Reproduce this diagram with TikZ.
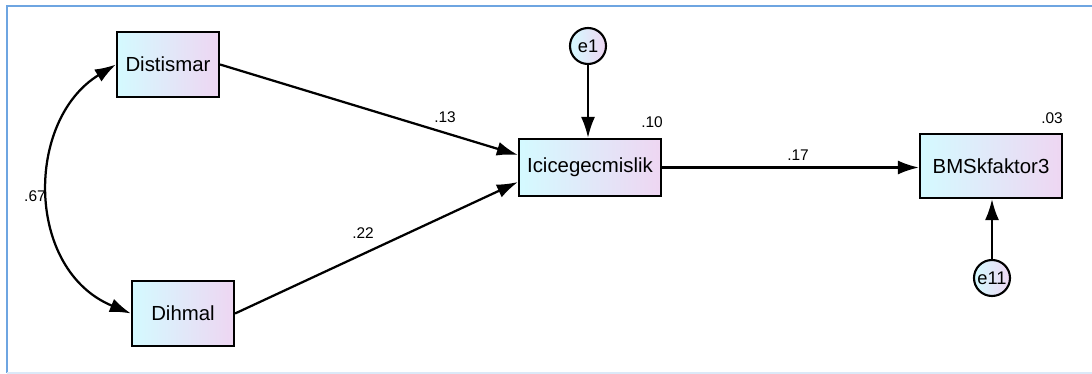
\documentclass[tikz,border=0pt]{standalone}
\usepackage{fontspec}
\setmainfont{Liberation Sans}
\usetikzlibrary{arrows.meta}

\definecolor{framebl}{RGB}{110,165,225}
\definecolor{boxcy}{RGB}{212,250,255}
\definecolor{boxpk}{RGB}{238,214,242}

\tikzset{
  var/.style={draw, line width=1.5pt, left color=boxcy, right color=boxpk,
    font=\fontsize{14.5}{17}\selectfont, inner sep=0pt},
  err/.style={circle, draw, line width=1.5pt, left color=boxcy, right color=boxpk,
    minimum size=0.9cm, inner sep=0pt, font=\fontsize{13}{15}\selectfont},
  reg/.style={draw, line width=1.6pt, -{Latex[length=15pt,width=10pt]}},
  corr/.style={draw, line width=1.6pt, {Latex[length=15pt,width=10pt]}-{Latex[length=15pt,width=10pt]}},
  coef/.style={font=\fontsize{11}{13}\selectfont, inner sep=0pt}
}

\begin{document}
\begin{tikzpicture}[x=0.025cm,y=-0.025cm]
  \useasboundingbox (0,0) rectangle (1092,374);
  % frame
  \draw [framebl, line width=1.6pt] (7,373) -- (7,6) -- (1092,6);
  \draw [framebl!25, line width=1pt] (7,373) -- (1092,373);

  \node [var, minimum width=2.55cm, minimum height=1.625cm] (dist) at (168,64.5) {Distismar};
  \node [var, minimum width=2.55cm, minimum height=1.625cm] (dih) at (183,313.5) {Dihmal};
  \node [var, minimum width=3.55cm, minimum height=1.425cm] (ici) at (590,167.5) {Icicegecmislik};
  \node [var, minimum width=3.55cm, minimum height=1.6cm] (bms) at (991,166) {BMSkfaktor3};
  \node [err] (e1) at (588,46) {e1};
  \node [err] (e11) at (992,278) {e11};

  \draw [reg] (dist.east) -- (ici.west |- 0,155);
  \draw [reg] (dih.east) -- (ici.west |- 0,182);
  \draw [reg] (ici.east) -- (bms.west |- ici.east);
  \draw [reg] (e1.south) -- (ici.north -| e1.south);
  \draw [reg] (e11.north) -- (bms.south -| e11.north);
  \draw [corr] (dist.west) .. controls (25,120) and (25,270) .. (dih.west);

  \node [coef] (c13) at (445,117) {.13};
  \node [coef] (c22) at (363,233) {.22};
  \node [coef] (c17) at (798,155) {.17};
  \node [coef] (c67) at (35,196) {.67};
  \node [coef] (r10) at (652,122) {.10};
  \node [coef] (r03) at (1052,118) {.03};
\end{tikzpicture}
\end{document}
